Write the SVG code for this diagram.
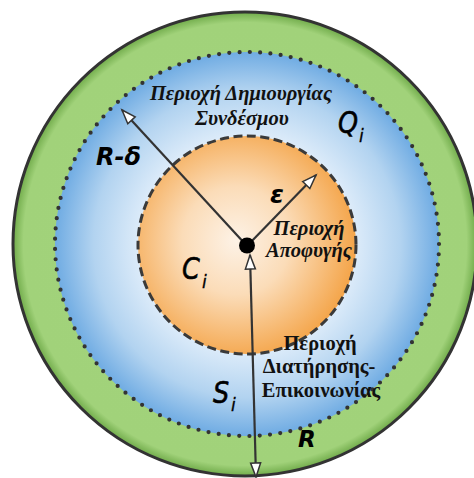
<svg xmlns="http://www.w3.org/2000/svg" width="474" height="478" viewBox="0 0 474 478">
<style>
.gr{font-family:"Liberation Serif","DejaVu Serif",serif;font-weight:bold;fill:#111;}
.it{font-style:italic;}
.sym{font-family:"DejaVu Sans","Liberation Sans",sans-serif;font-style:italic;fill:#000;stroke:#000;stroke-width:0.6;}
.sub{font-family:"DejaVu Sans","Liberation Sans",sans-serif;font-style:italic;fill:#000;stroke:#000;stroke-width:0.3;}
.bsym{font-family:"DejaVu Sans","Liberation Sans",sans-serif;font-style:italic;font-weight:bold;fill:#000;}
.ln{stroke:#333;stroke-width:2.2;fill:none;}
</style>
<defs>
<radialGradient id="gGreen" cx="0.5" cy="0.5" r="0.5">
<stop offset="0" stop-color="#a3d47c"/>
<stop offset="0.955" stop-color="#a1d27a"/>
<stop offset="1" stop-color="#70ab4a"/>
</radialGradient>
<radialGradient id="gBlue" cx="0.5" cy="0.5" r="0.5">
<stop offset="0" stop-color="#ffffff"/>
<stop offset="0.5" stop-color="#e8f2fc"/>
<stop offset="0.8" stop-color="#b2d3f0"/>
<stop offset="1" stop-color="#70ace3"/>
</radialGradient>
<radialGradient id="gOrange" cx="0.45" cy="0.48" r="0.55">
<stop offset="0" stop-color="#fdf2e6"/>
<stop offset="0.45" stop-color="#fbdcb8"/>
<stop offset="1" stop-color="#f4a54a"/>
</radialGradient>
<marker id="ah" viewBox="0 0 16 12" refX="15" refY="6" markerWidth="16" markerHeight="12" markerUnits="userSpaceOnUse" orient="auto-start-reverse" overflow="visible">
<path d="M1,1 L15,6 L1,11 z" fill="#fff" stroke="#333" stroke-width="1.5" stroke-linejoin="miter"/>
</marker>
</defs>

<g id="outer-region">
<circle cx="245" cy="244" r="232" fill="url(#gGreen)" stroke="#333" stroke-width="3"/>
</g>
<g id="link-region">
<circle cx="247" cy="244" r="192" fill="url(#gBlue)"/>
<circle cx="247" cy="244" r="192" fill="none" stroke="#333" stroke-width="4.2" stroke-linecap="round" stroke-dasharray="0 10.31"/>
</g>
<g id="avoid-region">
<circle cx="247" cy="245" r="109" fill="url(#gOrange)" stroke="#3a3a3a" stroke-width="3" stroke-dasharray="9 4.5"/>
</g>

<g id="connectors">
<line class="ln" x1="247" y1="246" x2="122" y2="110" marker-end="url(#ah)"/>
<line class="ln" x1="247" y1="246" x2="316" y2="175" marker-end="url(#ah)"/>
<line class="ln" x1="250" y1="255" x2="256" y2="477" marker-start="url(#ah)" marker-end="url(#ah)"/>
</g>

<g id="center">
<circle cx="247" cy="245.5" r="8" fill="#000"/>
</g>

<g id="labels">
<text class="gr it" x="241" y="100" font-size="20.5" text-anchor="middle">Περιοχή Δημιουργίας</text>
<text class="gr it" x="242" y="125" font-size="20.5" text-anchor="middle">Συνδέσμου</text>
<text class="gr it" x="309" y="235" font-size="20.5" text-anchor="middle">Περιοχή</text>
<text class="gr it" x="309" y="257" font-size="20.5" text-anchor="middle">Αποφυγής</text>
<text class="gr" x="320" y="350" font-size="20.5" text-anchor="middle">Περιοχή</text>
<text class="gr" x="319" y="373" font-size="20.5" text-anchor="middle">Διατήρησης-</text>
<text class="gr" x="321" y="397" font-size="20.5" text-anchor="middle">Επικοινωνίας</text>

<text class="bsym" x="96" y="165" font-size="24">R-δ</text>
<text class="bsym" x="270" y="203" font-size="25">ε</text>
<text class="bsym" x="298" y="447" font-size="23">R</text>

<text class="sym" transform="translate(338,133) scale(0.85,1)" font-size="30">Q</text>
<text class="sub" x="359" y="142" font-size="17">i</text>
<text class="sym" transform="translate(182,279) scale(0.85,1)" font-size="30">C</text>
<text class="sub" x="202" y="288" font-size="17">i</text>
<text class="sym" transform="translate(213,403) scale(0.85,1)" font-size="30">S</text>
<text class="sub" x="231" y="411" font-size="17">i</text>
</g>
</svg>
